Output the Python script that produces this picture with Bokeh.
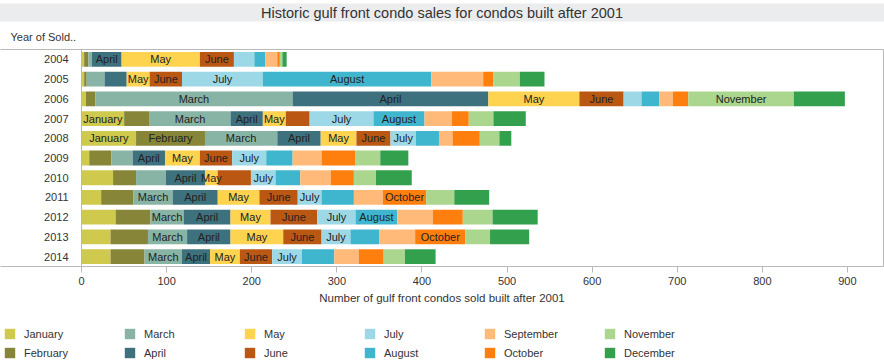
from bokeh.plotting import figure
from bokeh.layouts import column
from bokeh.models import (FactorRange, Range1d, LinearAxis, CategoricalAxis, FixedTicker,
                          Title, Legend, LegendItem, ColumnDataSource)
from bokeh.embed import file_html
from bokeh.resources import INLINE
from bokeh.core.properties import value
import numpy as np

# ---------------- data ----------------
years = ["2004", "2005", "2006", "2007", "2008", "2009", "2010", "2011", "2012", "2013", "2014"]
months = ["January", "February", "March", "April", "May", "June",
          "July", "August", "September", "October", "November", "December"]

january   = [3, 3, 5, 50, 64, 9, 37, 23, 40, 34, 34]
february  = [5, 3, 11, 30, 81, 26, 27, 38, 41, 44, 40]
march     = [4, 21, 232, 95, 85, 25, 35, 46, 39, 46, 44]
april     = [35, 26, 230, 38, 51, 38, 46, 53, 55, 51, 33]
may       = [92, 27, 107, 27, 42, 41, 15, 49, 47, 62, 35]
june      = [40, 38, 52, 28, 40, 38, 39, 45, 55, 45, 38]
july      = [24, 95, 21, 75, 30, 40, 29, 28, 45, 34, 35]
august    = [13, 198, 21, 60, 27, 31, 29, 38, 49, 34, 38]
september = [14, 61, 16, 32, 16, 34, 36, 34, 42, 42, 29]
october   = [3, 12, 18, 20, 32, 40, 27, 51, 35, 59, 29]
november  = [3, 31, 124, 29, 23, 29, 26, 33, 35, 29, 25]
december  = [5, 29, 60, 38, 14, 33, 42, 41, 53, 46, 36]

x_ticks = [0, 100, 200, 300, 400, 500, 600, 700, 800, 900]

# segments that carry a month label inside the bar
labeled = {
    "2004": ["April", "May", "June"],
    "2005": ["May", "June", "July", "August"],
    "2006": ["March", "April", "May", "June", "November"],
    "2007": ["January", "March", "April", "May", "July", "August"],
    "2008": ["January", "February", "March", "April", "May", "June", "July"],
    "2009": ["April", "May", "June", "July"],
    "2010": ["April", "May", "July"],
    "2011": ["March", "April", "May", "June", "July", "October"],
    "2012": ["March", "April", "May", "June", "July", "August"],
    "2013": ["March", "April", "May", "June", "July", "October"],
    "2014": ["March", "April", "May", "June", "July"],
}

colors = ["#CFC94E", "#878538", "#88B4A6", "#3E717E", "#FDD350", "#BA5712",
          "#9DD8E6", "#3FB6CE", "#FFBA7A", "#FF7F0E", "#ABD68D", "#33A04E"]

series = [january, february, march, april, may, june, july, august,
          september, october, november, december]

FONT = "Liberation Sans"
GRID = "#B9B9B9"
TXT = "#333333"

data = {"year": years}
for m, s in zip(months, series):
    data[m] = s
source = ColumnDataSource(data)

# label positions derived from the data
vals = np.array(series, dtype=float)          # months x years
ends = np.cumsum(vals, axis=0)
starts = ends - vals
lx, ly, lt = [], [], []
for j, yr in enumerate(years):
    for i, m in enumerate(months):
        if m in labeled[yr]:
            lx.append((starts[i, j] + ends[i, j]) / 2.0)
            ly.append(yr)
            lt.append(m)
lab_src = ColumnDataSource(dict(x=lx, y=ly, text=lt))

# ---------------- main figure ----------------
p = figure(width=884, height=312, title=None,
           y_range=FactorRange(factors=years[::-1]),
           x_range=Range1d(-95.3, 942.4),
           output_backend="svg", toolbar_location=None,
           y_axis_location=None,
           min_border_left=0, min_border_right=1, min_border_top=0, min_border_bottom=46)
p.outline_line_color = None
p.xgrid.visible = False
p.ygrid.visible = False

renderers = p.hbar_stack(months, y="year", height=0.75, color=colors,
                         line_color=None, source=source)

p.text(x="x", y="y", text="text", source=lab_src, text_align="center",
       text_baseline="middle", text_font_size="11px", text_font=value(FONT),
       text_color="#222222")

# x axis
xa = p.xaxis[0]
xa.ticker = FixedTicker(ticks=x_ticks)
xa.axis_line_color = GRID
xa.major_tick_line_color = GRID
xa.major_tick_out = 6
xa.major_tick_in = 0
xa.minor_tick_line_color = None
xa.major_label_text_font = FONT
xa.major_label_text_font_size = "11px"
xa.major_label_text_color = TXT
xa.major_label_standoff = 4
xa.axis_label = "Number of gulf front condos sold built after 2001"
xa.axis_label_text_font = FONT
xa.axis_label_text_font_size = "11.5px"
xa.axis_label_text_font_style = "normal"
xa.axis_label_text_color = TXT
xa.axis_label_standoff = 4

# y axis drawn at x = 0
ya = CategoricalAxis(fixed_location=0)
ya.axis_line_color = GRID
ya.major_tick_line_color = None
ya.minor_tick_line_color = None
ya.major_label_standoff = 7
ya.major_label_text_font = FONT
ya.major_label_text_font_size = "11px"
ya.major_label_text_color = TXT
p.add_layout(ya, "left")

# frame lines: top and right
top_ax = LinearAxis(ticker=FixedTicker(ticks=[]), axis_line_color=GRID,
                    major_tick_line_color=None, minor_tick_line_color=None,
                    major_label_standoff=0, major_tick_out=0)
p.add_layout(top_ax, "above")
right_ax = CategoricalAxis(axis_line_color=GRID,
                           major_tick_line_color=None, minor_tick_line_color=None,
                           major_label_standoff=0, major_tick_out=0,
                           major_label_text_font_size="0px",
                           major_label_text_color=None)
p.add_layout(right_ax, "right")

# titles
sub = Title(text="Year of Sold..", align="left", offset=10, standoff=13,
            text_font=FONT, text_font_size="11px", text_font_style="normal",
            text_color=TXT)
p.add_layout(sub, "above")
main = Title(text="Historic gulf front condo sales for condos built after 2001",
             align="center", standoff=2, text_font=FONT, text_font_size="14.5px",
             text_font_style="normal", text_color=TXT,
             background_fill_color="#EBECEE",
             padding={"left": 500, "right": 500, "top": 1, "bottom": 1})
p.add_layout(main, "above")

# ---------------- legend strip ----------------
lg = figure(width=884, height=52, title=None,
            y_range=FactorRange(factors=years[::-1]),
            x_range=Range1d(0, 1000),
            output_backend="svg", toolbar_location=None,
            x_axis_location=None, y_axis_location=None,
            min_border=0)
lg.outline_line_color = None
lg.xgrid.visible = False
lg.ygrid.visible = False
# zero-height proxies: they only provide the legend swatches
lg_renderers = lg.hbar_stack(months, y="year", height=0, color=colors,
                             line_color=None, source=source)

items = [LegendItem(label=m, renderers=[r]) for m, r in zip(months, lg_renderers)]
legend = Legend(items=items, orientation="vertical", nrows=2,
                location=(3, 5), glyph_width=13, glyph_height=13,
                label_standoff=8, label_width=93, label_height=13, spacing=6,
                padding=0, margin=0, border_line_color=None,
                background_fill_color=None, background_fill_alpha=0,
                label_text_font=FONT, label_text_font_size="11px",
                label_text_color=TXT)
lg.add_layout(legend, "center")

layout = column(p, lg, spacing=0)
open("out.html", "w").write(file_html(layout, INLINE))
